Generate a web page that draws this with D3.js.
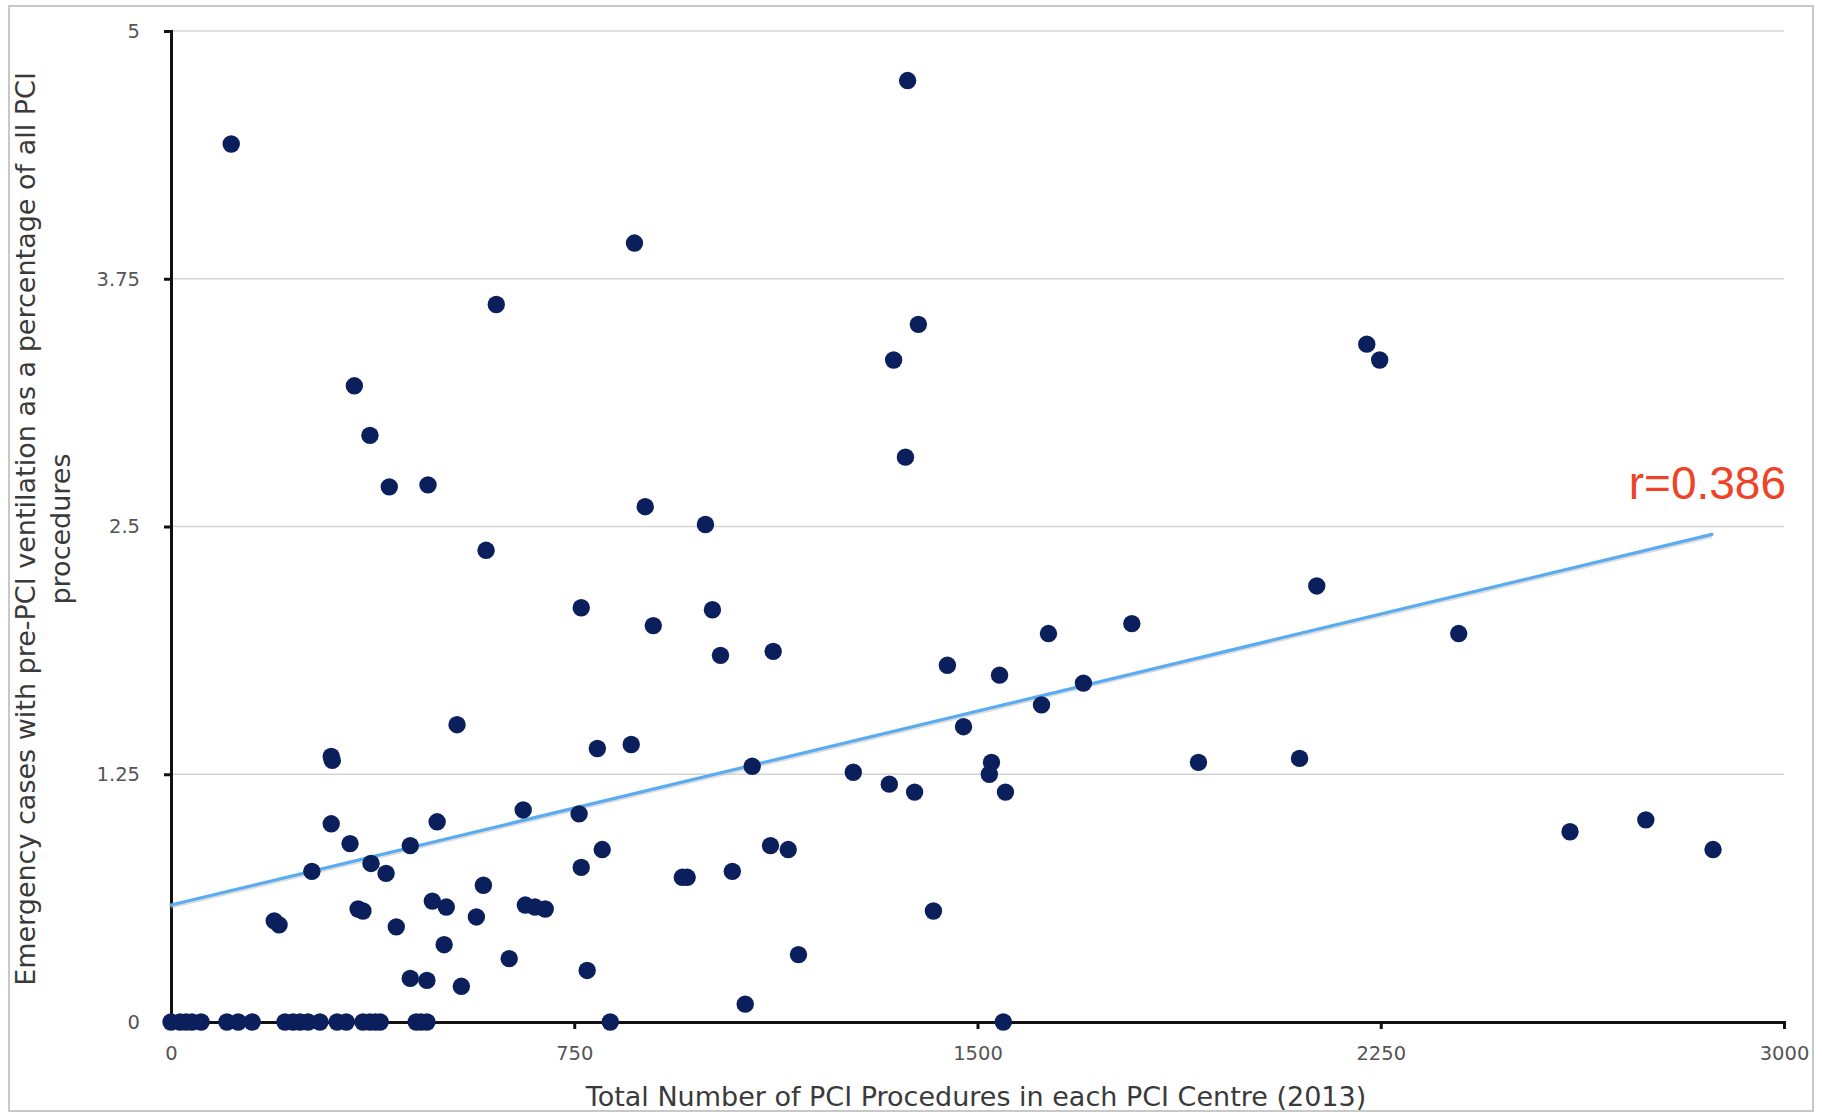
<!DOCTYPE html>
<html>
<head>
<meta charset="utf-8">
<script src="https://cdn.jsdelivr.net/npm/d3@7"></script>
<style>
  body { margin: 0; background: #fff; }
  text { font-family: "DejaVu Sans", Verdana, sans-serif; }
</style>
</head>
<body>
<script>
// PCI centres: total procedures (2013) vs % emergency cases with pre-PCI ventilation
var procedures = [
  0, 17, 28, 39, 56, 104, 125, 151, 212, 227, 240, 255, 277, 309, 326, 357, 370, 380, 389, 456, 465, 476, 817, 1548,
  112, 1370, 862, 605, 1390, 1344, 341, 370, 406, 478, 1366, 2224, 2248, 882, 994, 586,
  763, 1007, 897, 1022, 1120, 2131, 2395, 1787, 1632, 1444, 1541, 1697, 1619, 1474, 532,
  856, 793, 298, 300, 1081, 1526, 1522, 1911, 2099, 1269, 1336, 1383, 1552, 655, 759,
  298, 495, 333, 445, 1115, 1148, 802, 372, 400, 262, 1044, 951, 960, 763, 581,
  2602, 2743, 2868, 192, 201, 348, 357, 486, 512, 659, 677, 696, 568, 419, 508,
  1418, 629, 1167, 774, 445, 476, 540, 1068
];
var ventPct = [
  0, 0, 0, 0, 0, 0, 0, 0, 0, 0, 0, 0, 0, 0, 0, 0, 0, 0, 0, 0, 0, 0, 0, 0,
  4.43, 4.75, 3.93, 3.62, 3.52, 3.34, 3.21, 2.96, 2.70, 2.71, 2.85, 3.42, 3.34, 2.60, 2.51, 2.38,
  2.09, 2.08, 2.00, 1.85, 1.87, 2.20, 1.96, 2.01, 1.96, 1.80, 1.75, 1.71, 1.60, 1.49, 1.50,
  1.40, 1.38, 1.34, 1.32, 1.29, 1.31, 1.25, 1.31, 1.33, 1.26, 1.20, 1.16, 1.16, 1.07, 1.05,
  1.00, 1.01, 0.90, 0.89, 0.89, 0.87, 0.87, 0.80, 0.75, 0.76, 0.76, 0.73, 0.73, 0.78, 0.69,
  0.96, 1.02, 0.87, 0.51, 0.49, 0.57, 0.56, 0.61, 0.58, 0.59, 0.58, 0.57, 0.53, 0.48, 0.39,
  0.56, 0.32, 0.34, 0.26, 0.22, 0.21, 0.18, 0.09
];
var trendX = [0, 2866];
var trendY = [0.59, 2.46];
var xTicks = [0, 750, 1500, 2250, 3000];
var yTicks = [0, 1.25, 2.5, 3.75, 5];
var rLabel = "r=0.386";

var W = 1822, H = 1113;
var svg = d3.select("body").append("svg")
  .attr("width", W)
  .attr("height", H);

// outer frame
svg.append("rect")
  .attr("x", 9).attr("y", 6)
  .attr("width", 1804).attr("height", 1105)
  .attr("fill", "#fff")
  .attr("stroke", "#c8c8c8")
  .attr("stroke-width", 2);

var x = d3.scaleLinear().domain([0, 3000]).range([171, 1784]);
var y = d3.scaleLinear().domain([0, 5]).range([1022, 31]);

// gridlines
svg.append("g").selectAll("line")
  .data(yTicks.filter(function (d) { return d > 0; }))
  .join("line")
  .attr("x1", x(0)).attr("x2", x(3000))
  .attr("y1", function (d) { return y(d); })
  .attr("y2", function (d) { return y(d); })
  .attr("stroke", "#d3d3d3")
  .attr("stroke-width", 1.6);

// axes
var gy = svg.append("g")
  .attr("transform", "translate(" + x(0) + ",0)")
  .call(d3.axisLeft(y).tickValues(yTicks).tickSize(7).tickPadding(24)
    .tickFormat(function (d) { return String(d); }));
var gx = svg.append("g")
  .attr("transform", "translate(0," + y(0) + ")")
  .call(d3.axisBottom(x).tickValues(xTicks).tickSize(7).tickPadding(17)
    .tickFormat(function (d) { return String(d); }));
[gy, gx].forEach(function (g) {
  g.select(".domain").attr("stroke", "#111").attr("stroke-width", 3);
  g.selectAll(".tick line").attr("stroke", "#111").attr("stroke-width", 3);
  g.selectAll(".tick text")
    .attr("fill", "#555")
    .style("font-size", "19.5px")
    .style("font-family", "'DejaVu Sans', Verdana, sans-serif");
});

// trend line
svg.append("line")
  .attr("x1", x(trendX[0])).attr("y1", y(trendY[0]) + 2)
  .attr("x2", x(trendX[1])).attr("y2", y(trendY[1]) + 2)
  .attr("stroke", "#bbb")
  .attr("stroke-opacity", 0.5)
  .attr("stroke-width", 3);
svg.append("line")
  .attr("x1", x(trendX[0])).attr("y1", y(trendY[0]))
  .attr("x2", x(trendX[1])).attr("y2", y(trendY[1]))
  .attr("stroke", "#5aacf2")
  .attr("stroke-width", 3.2)
  .attr("stroke-linecap", "round");

// points
svg.append("g").selectAll("circle")
  .data(procedures.map(function (p, i) { return [p, ventPct[i]]; }))
  .join("circle")
  .attr("cx", function (d) { return x(d[0]); })
  .attr("cy", function (d) { return y(d[1]); })
  .attr("r", 8.7)
  .attr("fill", "#0b1f5c");

// correlation label
svg.append("text")
  .attr("x", 1786).attr("y", 499)
  .attr("text-anchor", "end")
  .attr("fill", "#ee4326")
  .style("font-family", "'Liberation Sans', Arial, sans-serif")
  .style("font-size", "46px")
  .text(rLabel);

// axis titles
svg.append("text")
  .attr("x", 976).attr("y", 1106)
  .attr("text-anchor", "middle")
  .attr("fill", "#3a3a3a")
  .style("font-size", "27px")
  .text("Total Number of PCI Procedures in each PCI Centre (2013)");

var yt = svg.append("text")
  .attr("transform", "translate(35,529) rotate(-90)")
  .attr("text-anchor", "middle")
  .attr("fill", "#3a3a3a")
  .style("font-size", "27px");
yt.append("tspan").attr("x", 0).attr("dy", 0)
  .text("Emergency cases with pre-PCI ventilation as a percentage of all PCI");
yt.append("tspan").attr("x", 0).attr("dy", 35)
  .text("procedures");
</script>
</body>
</html>
